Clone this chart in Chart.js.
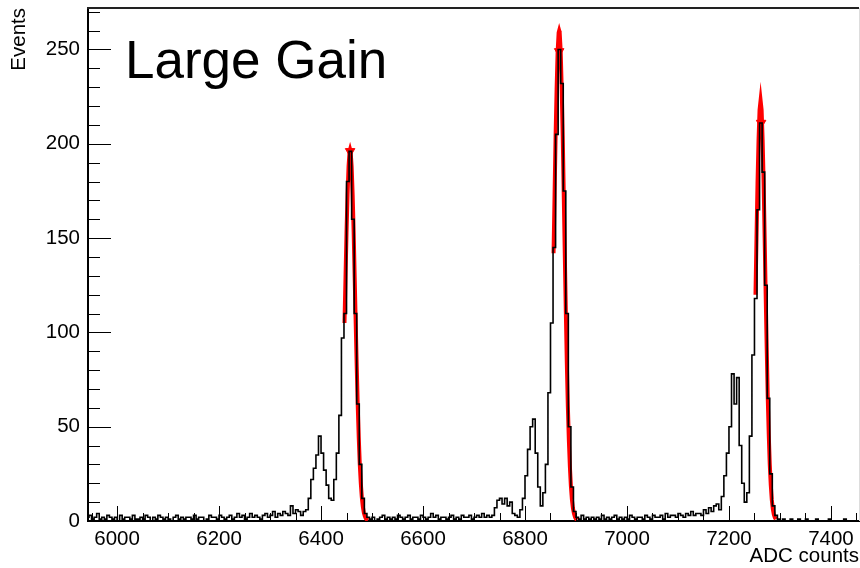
<!DOCTYPE html>
<html lang="en">
<head>
<meta charset="UTF-8" />
<title>Large Gain</title>
<script src="https://cdn.jsdelivr.net/npm/chart.js"></script>
<style>
  body { margin: 0; background: #fff; }
  canvas { display: block; }
</style>
</head>
<body>
<canvas id="adcChart" width="860" height="568"></canvas>
<script>
  // histogram: counts per 5 ADC counts, first bin starts at 5940
  const binStart = 5940;
  const binWidth = 5;
  const counts = [
    2,3,1,2,4,1,2,1,3,2, 1,2,0,3,1,2,2,1,3,1,         // 5940
    1,2,1,3,2,0,2,1,3,2, 1,2,1,0,2,3,1,2,1,2,         // 6040
    2,1,3,1,2,2,0,1,3,2, 2,1,3,2,1,2,3,1,2,4,         // 6140
    2,3,1,2,4,2,3,2,1,3, 4,2,3,5,2,4,3,5,4,3,         // 6240
    8,4,6,5,3,5,6,12,22,28, 35,45,36,27,19,12,11,22,36,56,      // 6340
    97,110,180,196,160,110,62,30,12,4, 2,1,2,0,1,2,3,1,2,1,     // 6440
    2,1,3,2,1,2,3,1,2,2, 1,3,2,1,2,4,2,3,1,2,         // 6540
    2,1,2,3,1,2,1,3,2,2, 3,1,2,3,2,4,2,3,2,3,         // 6640
    7,11,12,9,12,8,10,4,3,2, 6,12,24,38,50,54,36,18,8,15,       // 6740
    30,68,105,145,205,250,232,175,110,50, 18,5,2,1,3,1,2,1,2,1, // 6840
    2,1,3,1,2,1,2,3,1,2, 1,2,1,3,2,1,2,2,1,3,         // 6940
    2,1,3,2,2,3,1,4,2,3, 3,2,4,3,2,4,3,5,3,4,         // 7040
    4,3,6,4,7,5,8,9,6,13, 24,36,50,78,62,76,40,20,10,15,        // 7140
    45,88,118,165,211,185,125,65,25,8, 3,1,0,1,0,0,1,0,0,1,     // 7240
    0,0,1,0,0,0,1,0,0,0, 0,1,0,0,0,0,0,1,0,0,         // 7340
    0,0,0,0                                            // 7440
  ];

  // gaussian fits drawn in red
  const fit1X = [6446,6448,6450,6452,6454,6456,6457,6458,6460,6462,6464,6466,6468,6470,6472,6474,6476,6478,6480,6482,6484,6486,6488,6490,6492];
  const fit1Y = [105,129,153,173,188,196,197,196,188,173,153,129,105,82,61,44,30,20,12.5,7.6,4.4,2.5,1.3,0.7,0.3];
  const fit2X = [6856,6858,6860,6862,6864,6866,6867,6868,6870,6872,6874,6876,6878,6880,6882,6884,6886,6888,6890,6892,6894,6896,6898,6900,6902];
  const fit2Y = [142,173,204,229,249,259,260,259,249,229,204,173,142,112,84,61,43,29,18.5,11.4,6.8,3.9,2.1,1.1,0.6];
  const fit3X = [7252,7254,7256,7258,7260,7262,7264,7266,7268,7270,7272,7274,7276,7278,7280,7282,7284,7286,7288,7290,7292];
  const fit3Y = [120,150,179,202,218,223,218,202,179,150,120,92,66,46,30,19,11.2,6.4,3.4,1.8,0.9];

  // found peaks (markers)
  const peakX = [6457, 6867, 7263];
  const peakY = [196, 249, 211];

  const xMin = 5943, xMax = 7455;
  const yMin = 0, yMax = 272;
  const xMajorStep = 200, xMinorStep = 50;
  const yMajorStep = 50, yMinorStep = 10;

  const histPoints = counts.map((c, i) => ({ x: binStart + i * binWidth, y: c }));
  histPoints.push({ x: binStart + counts.length * binWidth, y: counts[counts.length - 1] });

  const zip = (xs, ys) => xs.map((x, i) => ({ x: x, y: ys[i] }));

  const FONT = '"Liberation Sans", Arial, Helvetica, sans-serif';
  Chart.defaults.font.family = FONT;
  Chart.defaults.color = '#000';

  // ROOT style: ticks inside the frame, plus the top/right frame and the big label
  const rootFrame = {
    id: 'rootFrame',
    afterDatasetsDraw(chart) {
      const { ctx, chartArea: a, scales: { x, y } } = chart;
      ctx.save();
      ctx.strokeStyle = '#000';
      ctx.lineWidth = 1;
      ctx.beginPath();
      for (let v = Math.ceil(x.min / xMinorStep) * xMinorStep; v <= x.max; v += xMinorStep) {
        const px = Math.round(x.getPixelForValue(v)) + 0.5;
        const len = v % xMajorStep === 0 ? 15 : 8;
        ctx.moveTo(px, a.bottom);
        ctx.lineTo(px, a.bottom - len);
      }
      for (let v = yMin; v <= y.max; v += yMinorStep) {
        const py = Math.round(y.getPixelForValue(v)) + 0.5;
        const len = v % yMajorStep === 0 ? 23 : 12;
        ctx.moveTo(a.left, py);
        ctx.lineTo(a.left + len, py);
      }
      ctx.stroke();

      ctx.lineWidth = 2;
      ctx.strokeStyle = '#222';
      ctx.beginPath();
      ctx.moveTo(a.left - 1, a.top);
      ctx.lineTo(a.right, a.top);
      ctx.stroke();
      ctx.lineWidth = 1;
      ctx.strokeStyle = '#ddd';
      ctx.beginPath();
      ctx.moveTo(a.right + 0.5, a.top);
      ctx.lineTo(a.right + 0.5, a.bottom);
      ctx.stroke();

      ctx.fillStyle = '#000';
      ctx.font = '53px ' + FONT;
      ctx.textBaseline = 'alphabetic';
      ctx.textAlign = 'left';
      ctx.fillText('Large Gain', 125, 78);
      ctx.restore();
    }
  };

  new Chart(document.getElementById('adcChart'), {
    type: 'line',
    data: {
      datasets: [
        {
          label: 'hist',
          data: histPoints,
          stepped: true,
          borderColor: '#000',
          borderWidth: 1.6,
          pointRadius: 0,
          fill: false
        },
        { label: 'fit1', data: zip(fit1X, fit1Y), borderColor: '#ff0000', borderWidth: 4, pointRadius: 0, tension: 0 },
        { label: 'fit2', data: zip(fit2X, fit2Y), borderColor: '#ff0000', borderWidth: 4, pointRadius: 0, tension: 0 },
        { label: 'fit3', data: zip(fit3X, fit3Y), borderColor: '#ff0000', borderWidth: 4, pointRadius: 0, tension: 0 },
        {
          label: 'peaks',
          data: zip(peakX, peakY),
          showLine: false,
          pointStyle: 'triangle',
          pointRotation: 180,
          pointRadius: 5.5,
          pointBackgroundColor: '#ff0000',
          pointBorderColor: '#ff0000',
          pointBorderWidth: 1
        }
      ]
    },
    options: {
      responsive: false,
      devicePixelRatio: 1,
      animation: false,
      layout: { autoPadding: false, padding: { top: 8, right: 1, left: 0, bottom: 0 } },
      plugins: {
        legend: { display: false },
        tooltip: { enabled: false }
      },
      scales: {
        x: {
          type: 'linear',
          min: xMin,
          max: xMax,
          grid: { display: false, drawTicks: false },
          border: { display: true, color: '#000', width: 2 },
          ticks: {
            stepSize: xMajorStep,
            includeBounds: false,
            autoSkip: false,
            maxRotation: 0,
            padding: 6,
            font: { size: 20.5 },
            color: '#000',
            callback: v => String(v)
          },
          title: {
            display: true,
            text: 'ADC counts',
            align: 'end',
            font: { size: 20.5, lineHeight: 1 },
            padding: { top: 0, bottom: 1 },
            color: '#000'
          },
          afterFit: s => {
            s.height = 47;
            s.paddingLeft = 0;
            s.paddingRight = 0;
          }
        },
        y: {
          min: yMin,
          max: yMax,
          grid: { display: false, drawTicks: false },
          border: { display: true, color: '#000', width: 2 },
          ticks: {
            stepSize: yMajorStep,
            includeBounds: false,
            padding: 8,
            font: { size: 20.5 },
            color: '#000'
          },
          title: {
            display: true,
            text: 'Events',
            align: 'end',
            font: { size: 20.5, lineHeight: 1 },
            padding: { top: 9, bottom: 0 },
            color: '#000'
          },
          afterFit: s => {
            s.width = 88;
            s.paddingTop = 0;
            s.paddingBottom = 0;
          }
        }
      }
    },
    plugins: [rootFrame]
  });
</script>
</body>
</html>
